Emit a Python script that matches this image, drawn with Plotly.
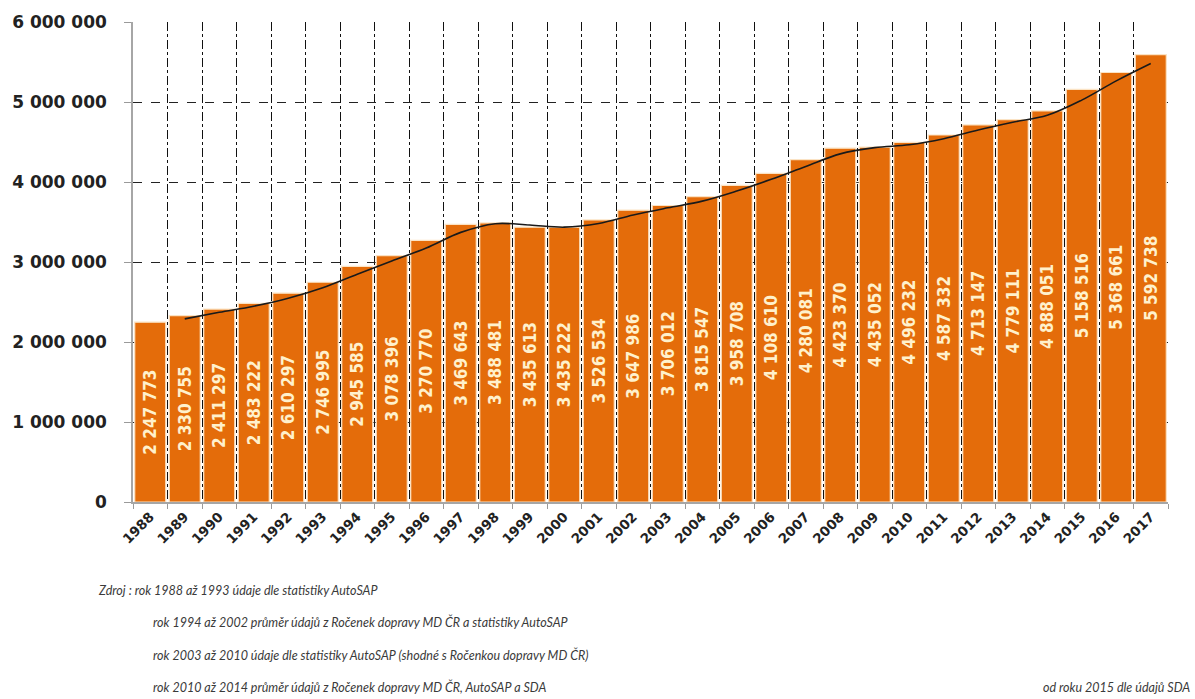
import plotly.graph_objects as go

years = [str(y) for y in range(1988, 2018)]
vehicles = [2247773, 2330755, 2411297, 2483222, 2610297, 2746995, 2945585, 3078396,
            3270770, 3469643, 3488481, 3435613, 3435222, 3526534, 3647986, 3706012,
            3815547, 3958708, 4108610, 4280081, 4423370, 4435052, 4496232, 4587332,
            4713147, 4779111, 4888051, 5158516, 5368661, 5592738]
y_ticks = [0, 1000000, 2000000, 3000000, 4000000, 5000000, 6000000]
notes = [
    "Zdroj : rok 1988 až 1993 údaje dle statistiky AutoSAP",
    "rok 1994 až 2002 průměr údajů z Ročenek dopravy MD ČR a statistiky AutoSAP",
    "rok 2003 až 2010 údaje dle statistiky AutoSAP (shodné s Ročenkou dopravy MD ČR)",
    "rok 2010 až 2014 průměr údajů z Ročenek dopravy MD ČR, AutoSAP a SDA",
]
note_right = "od roku 2015 dle údajů SDA"

def fmt(v):
    return f"{v:,}".replace(",", " ")

# 2-period moving average trendline (as in the original spreadsheet)
ma_x = years[1:]
ma_y = [(vehicles[i - 1] + vehicles[i]) / 2 for i in range(1, len(vehicles))]

fig = go.Figure()
fig.add_trace(go.Bar(
    x=years, y=vehicles,
    marker=dict(color="#E46C0A", line=dict(color="#FBE3C4", width=1.2)),
    text=[f"<b>{fmt(v)}</b>" for v in vehicles],
    textposition="inside", insidetextanchor="middle", textangle=-90,
    textfont=dict(family="DejaVu Sans Condensed", size=17, color="#FFF1CC"),
    constraintext="none",
    hoverinfo="x+y",
))
fig.add_trace(go.Scatter(
    x=ma_x, y=ma_y, mode="lines",
    line=dict(color="#1a1a1a", width=1.6, shape="spline"),
    hoverinfo="skip",
))

fig.update_layout(
    width=1195, height=699,
    margin=dict(l=127, r=27, t=20, b=197),
    paper_bgcolor="white", plot_bgcolor="white",
    showlegend=False, bargap=0.1,
    separators=", ",
    xaxis=dict(
        type="category", tickson="boundaries",
        showgrid=True, gridcolor="#111111", griddash="dashdot", gridwidth=1.3,
        ticks="outside", ticklen=5, tickcolor="#9a9a9a",
        tickangle=-45,
        tickfont=dict(family="DejaVu Sans", size=13.5, color="#222222", weight="bold"),
        showline=True, linecolor="#a6a6a6", linewidth=1.5,
    ),
    yaxis=dict(
        range=[0, 6000000], tickvals=y_ticks,
        ticktext=[fmt(v) for v in y_ticks],
        showgrid=True, gridcolor="#222222", griddash="dash", gridwidth=1.3,
        zeroline=False,
        ticks="outside", ticklen=7, tickcolor="#9a9a9a",
        ticklabelstandoff=14,
        tickfont=dict(family="DejaVu Sans", size=17, color="#222222", weight="bold"),
        showline=True, linecolor="#a6a6a6", linewidth=1.5,
    ),
)

plot_w = 1195 - 127 - 27
plot_h = 699 - 20 - 197

def to_plot(px, py):
    return (px - 127) / plot_w, (699 - 197 - py) / plot_h

note_font = dict(family="Lato", size=12.5, color="#3a3a3a")
note_pos = [(90, 591), (145, 623), (145, 656), (145, 688)]
for txt, (px, py) in zip(notes, note_pos):
    ax, ay = to_plot(px, py)
    fig.add_annotation(
        x=ax, y=ay, xref="paper", yref="paper",
        xanchor="left", yanchor="middle", showarrow=False,
        text=f"<i>{txt}</i>", font=note_font,
    )
ax, ay = to_plot(1192, 688)
fig.add_annotation(
    x=ax, y=ay, xref="paper", yref="paper",
    xanchor="right", yanchor="middle", showarrow=False,
    text=f"<i>{note_right}</i>", font=note_font,
)

fig.write_html("out.html")
